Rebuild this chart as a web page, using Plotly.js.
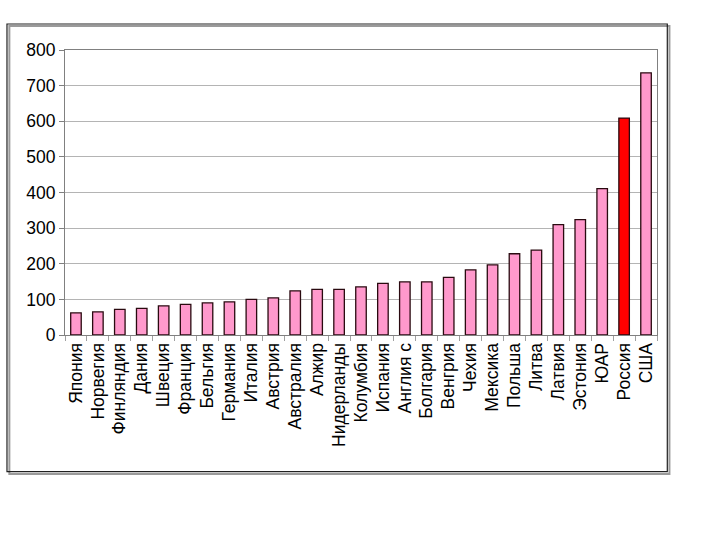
<!DOCTYPE html>
<html>
<head>
<meta charset="utf-8">
<script src="https://cdn.plot.ly/plotly-3.0.1.min.js"></script>
<style>html,body{margin:0;padding:0;background:#fff;}#chart{width:720px;height:540px;}</style>
</head>
<body>
<div id="chart"></div>
<script>
const countries = ["Япония","Норвегия","Финляндия","Дания","Швеция","Франция","Бельгия","Германия","Италия","Австрия","Австралия","Алжир","Нидерланды","Колумбия","Испания","Англия с","Болгария","Венгрия","Чехия","Мексика","Польша","Литва","Латвия","Эстония","ЮАР","Россия","США"];
const values = [62,65,72,75,82,86,90,93,100,104,124,128,128,135,145,149,149,162,183,197,228,238,310,324,411,609,736];
const highlight = "Россия";
const yTicks = [0,100,200,300,400,500,600,700,800];

const colors = countries.map(c => c === highlight ? "#FF0000" : "#FF99CC");

const trace = {
  type: "bar",
  x: countries,
  y: values,
  marker: {color: colors, line: {color: "#2a0a10", width: 1.3}},
  hoverinfo: "x+y"
};

const font = {family: "Liberation Sans, Arial, sans-serif", size: 17.5, color: "#000"};

const layout = {
  width: 720, height: 540,
  margin: {l: 65, r: 63, t: 50, b: 205},
  paper_bgcolor: "#fff", plot_bgcolor: "#fff",
  showlegend: false,
  bargap: 0.52,
  font: font,
  xaxis: {
    type: "category",
    tickangle: -90,
    ticks: "outside", ticklen: 5, tickcolor: "#a0a0a0",
    tickson: "boundaries",
    showline: true, linecolor: "#808080", linewidth: 1, mirror: true,
    showgrid: false,
    tickfont: font
  },
  yaxis: {
    range: [0, 800],
    tickvals: yTicks,
    ticks: "outside", ticklen: 5, tickcolor: "#808080",
    showline: true, linecolor: "#808080", linewidth: 1, mirror: true,
    showgrid: true, gridcolor: "#b4b4b4", gridwidth: 1,
    zeroline: false,
    tickfont: font
  },
  shapes: [
    {type: "rect", xref: "paper", yref: "paper", x0: -0.094, x1: 1.021, y0: 1.084, y1: -0.488,
     line: {color: "#9a9a9a", width: 2}, layer: "below"},
    {type: "rect", xref: "paper", yref: "paper", x0: -0.098, x1: 1.0174, y0: 1.0912, y1: -0.4796,
     line: {color: "#202020", width: 1.2}, layer: "below"}
  ]
};

Plotly.newPlot("chart", [trace], layout, {displayModeBar: false, staticPlot: true});
</script>
</body>
</html>
